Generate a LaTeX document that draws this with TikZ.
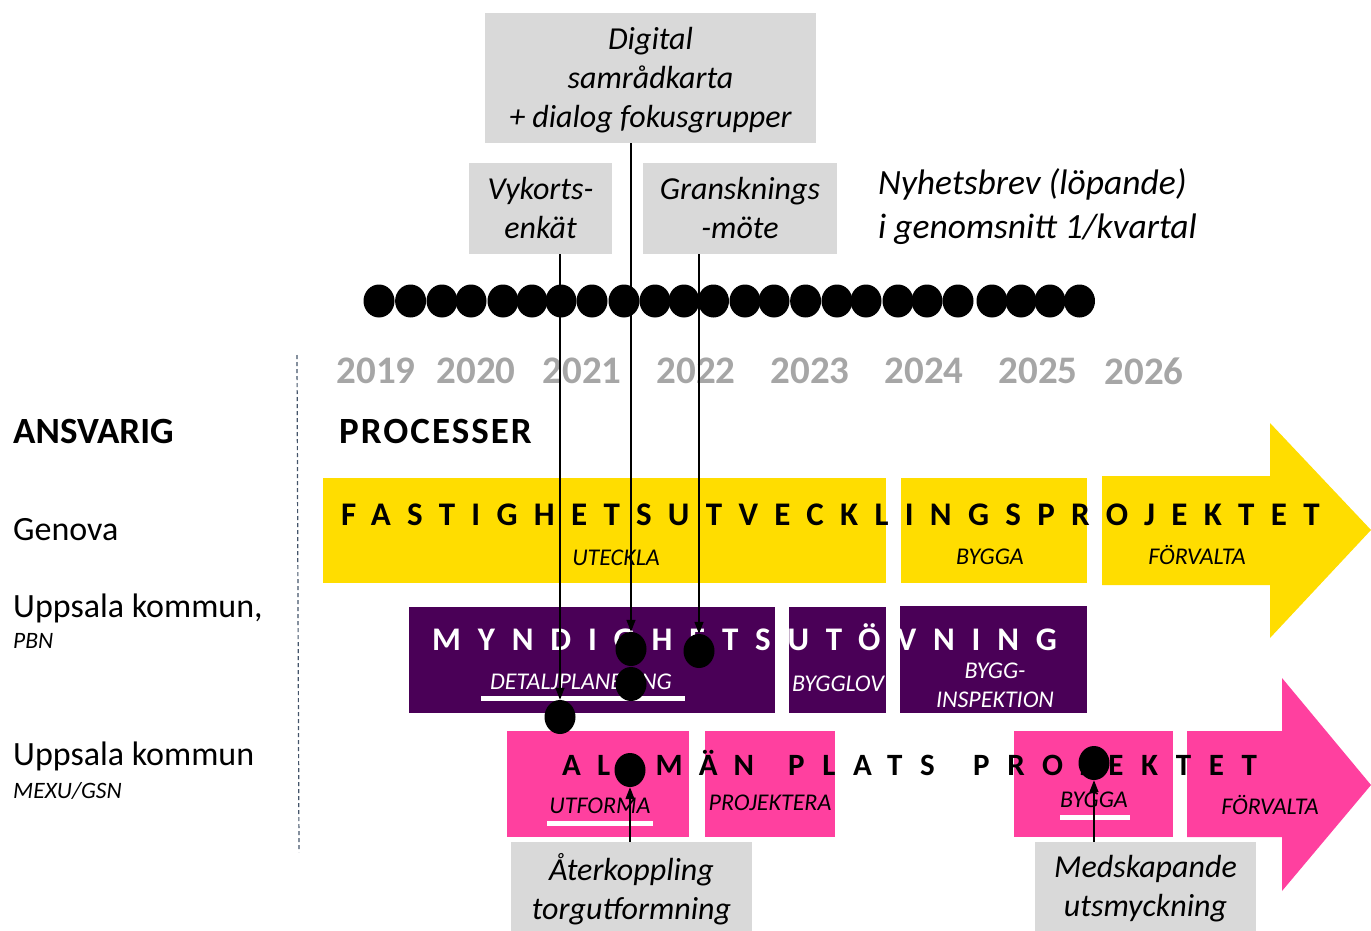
\documentclass[tikz,border=0pt]{standalone}
\usepackage{fontspec}
\setmainfont{Carlito}
\usetikzlibrary{arrows.meta,shapes.geometric}
\definecolor{ygold}{HTML}{FFDD00}
\definecolor{purp}{HTML}{4A0057}
\definecolor{pinkc}{HTML}{FF409F}
\definecolor{boxg}{HTML}{D9D9D9}
\definecolor{yearg}{HTML}{A6A6A6}
\definecolor{dashc}{HTML}{44546A}
\newcommand{\fsz}[2]{\fontsize{#1}{#2}\selectfont}
\begin{document}
\begin{tikzpicture}[x=1pt,y=-1pt,
 gbox/.style={fill=boxg, inner sep=0pt, align=center, font=\fsz{32}{39}\itshape},
 yr/.style={font=\fsz{39}{40}\bfseries, text=yearg, inner sep=0pt},
 hdr/.style={font=\fsz{37}{40}\bfseries, anchor=west, inner sep=0pt},
 who/.style={font=\fsz{34}{36}, anchor=west, inner sep=0pt},
 whosub/.style={font=\fsz{23.5}{24}\itshape, anchor=west, inner sep=0pt},
 sub/.style={font=\fsz{24}{29}\itshape, inner sep=0pt, align=center},
 title/.style={anchor=base west, inner sep=0pt},
 tdot/.style={ellipse, fill=black, inner sep=0pt, minimum width=31pt, minimum height=34pt},
 conn/.style={line width=1.3pt, -{Triangle[length=12pt,width=9pt]}},
 uline/.style={fill=white},
]
\useasboundingbox (0,0) rectangle (1371,931);

% top boxes
\node[gbox, minimum width=331pt, minimum height=130pt] (dig) at (650.5,78) {\strut Digital\\samrådkarta\\+ dialog fokusgrupper};
\node[gbox, minimum width=143pt, minimum height=91pt] (vyk) at (540.5,208.5) {Vykorts-\\enkät};
\node[gbox, minimum width=194pt, minimum height=91pt] (gra) at (740,208.5) {Gransknings\\-möte};
\node[font=\fsz{35.5}{44}\itshape, align=left, anchor=west, inner sep=0pt] (nyh) at (878,207) {Nyhetsbrev (löpande)\\i genomsnitt 1/kvartal};

% timeline dots
\foreach \x in {379,410.6,442,471,503,532,561,592,624,655,684,713.5,745,774,805.6,837,866,898,927,958,992,1021,1050,1079.5}
  \fill (\x,301) ellipse [x radius=15.5, y radius=16.5];

% years
\foreach \x/\y in {376/2019,476/2020,582/2021,696/2022,810/2023,924/2024,1038/2025,1144/2026}
  \node[yr] (y\y) at (\x,371) {\y};

% dashed separator
\draw[dashc, line width=1.2pt, dash pattern=on 4pt off 3pt] (297,355) -- (299,852);

% left column
\node[hdr] (ansv) at (13,431) {ANSVARIG};
\node[hdr, font=\fsz{37}{40}\bfseries\addfontfeature{LetterSpace=5.5}] (proc) at (339,431) {PROCESSER};
\node[who] (gen) at (13,530) {Genova};
\node[who] (upp1) at (13,608) {Uppsala kommun,};
\node[whosub] (pbn) at (13,641) {PBN};
\node[who] (upp2) at (13,756) {Uppsala kommun};
\node[whosub] (mexu) at (13,791) {MEXU/GSN};

% yellow row
\fill[ygold] (323,478) rectangle (886,583);
\fill[ygold] (901,478) rectangle (1087,583);
\fill[ygold] (1102,476) -- (1270,476) -- (1270,423) -- (1371,530) -- (1270,638) -- (1270,585) -- (1102,585) -- cycle;
\node[title, font=\fsz{33}{36}\bfseries\addfontfeature{LetterSpace=49.5}] (t1) at (341,525) {FASTIGHETSUTVECKLINGSPROJEKTET};
\node[sub] (utk) at (616,558) {UTECKLA};
\node[sub] (byg1) at (990,557) {BYGGA};
\node[sub] (forv1) at (1197,555) {FÖRVALTA};

% purple row
\fill[purp] (409,607) rectangle (775,713);
\fill[purp] (789,607) rectangle (886,713);
\fill[purp] (900,606) rectangle (1087,713);
\node[title, text=white, font=\fsz{33}{36}\bfseries\addfontfeature{LetterSpace=51}] (t2) at (432,650) {MYNDIGHETSUTÖVNING};
\node[sub, text=white] (dpl) at (581,682) {DETALJPLANERING};
\fill[uline] (481,696) rectangle (685,701);
\node[sub, text=white] (bgl) at (838,684) {BYGGLOV};
\node[sub, text=white] (bin) at (995,685) {BYGG-\\INSPEKTION};

% pink row
\fill[pinkc] (507,731) rectangle (689,837);
\fill[pinkc] (705,731) rectangle (835,837);
\fill[pinkc] (1014,731) rectangle (1173,837);
\fill[pinkc] (1187,731) -- (1282,731) -- (1282,678) -- (1371,785) -- (1282,891) -- (1282,837) -- (1187,837) -- cycle;
\node[title, font=\fsz{31}{36}\bfseries\addfontfeature{LetterSpace=52}] (t3a) at (562,775) {ALLMÄN};
\node[title, font=\fsz{31}{36}\bfseries\addfontfeature{LetterSpace=57}] (t3b) at (788,775) {PLATS};
\node[title, font=\fsz{31}{36}\bfseries\addfontfeature{LetterSpace=57}] (t3c) at (973,775) {PROJEKTET};
\node[sub] (utf) at (600,806) {UTFORMA};
\fill[uline] (547,821) rectangle (653,826);
\node[sub] (proj) at (770,803) {PROJEKTERA};
\node[sub] (byg2) at (1094,800) {BYGGA};
\fill[uline] (1060,815) rectangle (1130,820);
\node[sub] (forv2) at (1270,805) {FÖRVALTA};

% bottom boxes
\node[gbox, minimum width=241pt, minimum height=94pt] (ater) at (631.5,889) {Återkoppling\\torgutformning};
\node[gbox, minimum width=221pt, minimum height=94pt] (med) at (1145.5,889) {Medskapande\\utsmyckning};

% connector dots
\node[tdot] (dv) at (560,717) {};
\node[tdot] (dd2) at (631,684) {};
\node[tdot] (dd1) at (631,649) {};
\node[tdot] (dg) at (699,651) {};
\node[tdot] (da) at (630,770) {};
\node[tdot] (dm) at (1094,763) {};

% connectors
\draw[conn] (vyk.south -| dv) -- (dv);
\draw[conn] (dig.south -| dd1) -- (dd1);
\draw[conn] (gra.south -| dg) -- (dg);
\draw[conn] (ater.north -| da) -- (da);
\draw[conn] (med.north -| dm) -- (dm);
\end{tikzpicture}
\end{document}
